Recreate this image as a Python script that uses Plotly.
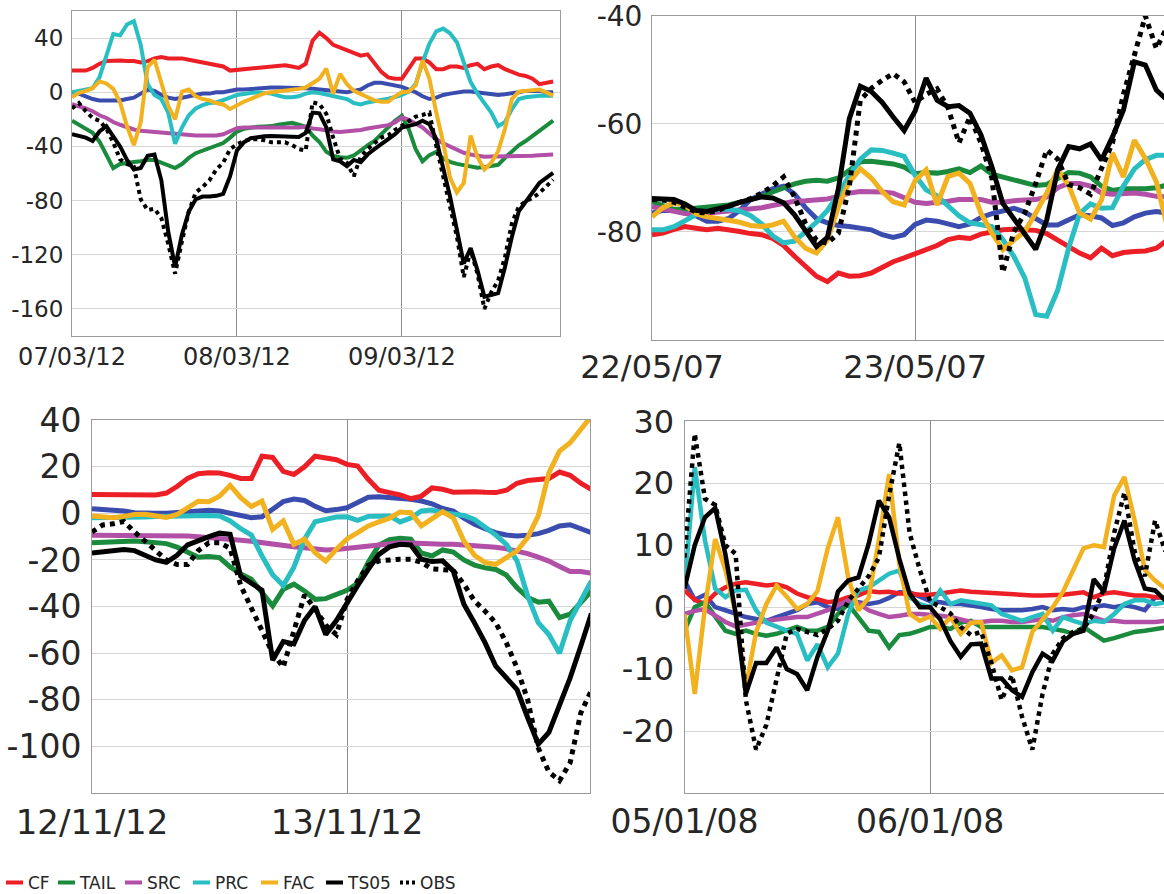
import pandas as pd
import plotly.graph_objects as go

# ---------------- data (hourly values) ----------------
SERIES = ["RC", "CF", "TAIL", "SRC", "PRC", "FAC", "TS05", "OBS"]
COLORS = {"RC": "#3A4DAF", "CF": "#EC1F26", "TAIL": "#1A8A3C", "SRC": "#B250A8",
          "PRC": "#28BEC2", "FAC": "#F2B11F", "TS05": "#000000", "OBS": "#000000"}

# --- panel 1: 07/03/12 - 09/03/12 ---
TL_START = "2012-03-07 00:00"
TL_RC = [0,-1,-3,-5,-6,-6,-6.5,-6,-5,-4, -1,2,1,-2,-4,-5,-4,-3,-2,-1, -1,0,0,1,2,2,2.5,3,3.5,3.5,
         3.5,3.5,3.5,3.5,3,2.5,2,1.5,1,0, 0,1,2,5,7,7,6,5,4,2, 0,-3,-5,-4,-2,-1,0,0.5,0.5,0,
         -1,-1.5,-2,-1.5,-1,0,1,1,1,0,0]
TL_CF = [16,16,16,18,21,23,23.5,23.5,23,23, 22,23,25,26,25,25,25,24,23,22, 21,20,19,16,16.5,17,18,18.5,19,19,
         19.5,20,19,18,21,38,44,40,35,33, 31,29,27,28,22,15,11,10,10,18, 25,25,22,17,17,19,19,18,20,21,
         17,19,20,17,15,13,12,10,6,7,8]
TL_TAIL = [-21,-24,-26.5,-30,-36.5,-46.5,-56,-53,-52,-51.5, -51,-50,-50,-52,-54,-56,-53,-48.5,-45,-43,
           -41.5,-39.5,-37.5,-33.5,-29,-27,-26,-25.5,-25.2,-25, -24,-23,-22.5,-24,-25.5,-32,-36.7,-44,-47,-48,
           -48.4,-46.7,-42.7,-39.2,-36,-31,-26.8,-21,-17.4,-27.3, -42,-51,-46.4,-44,-49,-51.4,-52.9,-54,-55,-55.8,
           -55.3,-54.6,-53.6,-48.4,-43.4,-39.2,-36,-32.3,-28.5,-24.3,-21]
TL_SRC = [-8.7,-10,-12,-14,-17,-19,-22,-24,-26,-27.5, -28.5,-29,-29.5,-30,-30.5,-31,-31.5,-31.5,-32,-32,
          -32,-32,-31,-29,-26.5,-26,-26,-26,-26,-26, -26.5,-26.5,-26.5,-26,-25.5,-26.8,-27.3,-28.5,-29,-29.3,
          -29,-28.5,-27.8,-26.8,-25.8,-25.3,-24.3,-22.3,-18.6,-20.3, -22.8,-26,-30.5,-34.7,-37.7,-40.2,-42.7,-44.7,-46,-47,
          -47.6,-47.5,-47.5,-47.5,-47.3,-47,-47,-46.8,-46.5,-46,-46]
TL_PRC = [0,1,1.5,3,11,27,43,42,50,52.5, 35,6,-2,-5,-15,-38,-26,-17,-12,-9.5, -8,-7.5,-6,-4,-2,-1,-0.5,0,-0.5,-1,
          -2.5,-3.7,-3.7,-3,-1,0,-0.5,-1.5,-2.5,-3.7, -5,-8,-9,-7.5,-6.7,-5.7,-4.7,-3.5,-2,0.5,
          6,22,36,45,47,43.5,37,22,7.5,-1, -7.5,-15,-25,-22,-12.5,-5,-3.7,-3,-2.5,-2.5,-2.5]
TL_FAC = [-3.7,-0.5,1,3,8,6.5,2.5,-7.5,-25,-39, -22,18.6,24,6,-10,-20,0.5,2,-3,-5, -6,-8,-9,-12.4,-9.4,-7,-5,-2.5,-0.7,0,
          0.5,1,1.7,2.5,3.5,7,10,17.4,-1,13.6, 6,1,-1.2,-3.7,-6,-7,-7,-3,0,0.5,
          5,23.5,10,-15,-37,-63,-74,-67,-32,-48, -57,-52,-43.5,-27,-5,0.5,1,1,2,0,-2.5]
TL_TS05 = [-31,-32,-33.5,-36,-29,-25,-32,-40,-50,-57, -56,-47,-46,-65,-103,-129,-105,-88,-79,-77,
           -77,-76.5,-75,-62,-43,-37,-34,-33,-32.5,-32.3, -32.3,-33,-33,-33,-30,-15,-15.6,-26,-49.6,-51,
           -54.6,-50,-51.6,-46,-42,-38.5,-34.7,-31,-26,-24.8, -23.6,-21,-23.6,-34.7,-56,-77,-101.7,-126.5,-115,-131.5,
           -151,-150,-148.4,-129,-106.7,-88,-80.6,-73.2,-67,-63.3,-59.6]
TL_OBS = [-12,-8,-14,-19,-21,-27,-37,-49.6,-53,-55, -79,-87,-86,-93,-112,-134,-110,-88,-74,-70,
          -65,-57,-52,-42,-38.5,-36,-34.7,-34.7,-35.5,-37, -37,-37,-39,-42,-43,-7.4,-8.7,-16,-33.5,-49,
          -52,-62,-47.6,-42,-37.7,-33.5,-31.8,-27.8,-24.8,-21, -18,-16.8,-15,-39.7,-62,-86.8,-106.7,-136.5,-116.6,-134,
          -160,-147.6,-139,-121.6,-96.8,-84.4,-80.6,-78,-74.4,-69.5,-64.5]
TL_YTICKS = [40, 0, -40, -80, -120, -160]
TL_YTEXT = ["40", "0", "-40", "-80", "-120", "-160"]

# --- panel 2: 22/05/07 - 23/05/07 ---
TR_START = "2007-05-22 00:00"
TR_RC = [-76.5,-76,-76,-76.5,-77,-78,-78,-77.5,-76,-74, -73,-72,-71.5,-73,-75.5,-77.5,-78.3,-78.8,-79,-79.2,
         -79.6,-80.5,-81,-80.5,-78.6,-77.8,-78,-78.5,-79,-78.5, -77.3,-76.6,-76.2,-75.6,-76.3,-77.5,-78.7,-78.7,-77.8,-76.8,
         -77,-77.4,-78.8,-78.3,-77.2,-76.5,-76.2,-76.5]
TR_CF = [-80.5,-80.2,-79.5,-79,-79.3,-79.6,-79.3,-79.5,-79.9,-80.3, -80.5,-81.2,-82.5,-84.5,-86.5,-88.2,-89.2,-87.6,-88.2,-88.1,
         -87.6,-86.6,-85.5,-84.8,-84,-83.3,-82.5,-81.4,-81,-81.2, -80.4,-80,-79.6,-79.5,-79.5,-79.7,-80.3,-81.5,-82.8,-83.9,
         -84.8,-83,-84.4,-83.8,-83.6,-83.5,-83,-81.5]
TR_TAIL = [-74.4,-75.2,-75.8,-75.8,-75.6,-75.6,-75.3,-75,-74.5,-74, -73.4,-72.6,-71.8,-71.1,-70.6,-70.4,-70.6,-70,-68.6,-67,
           -66.9,-67.2,-67.4,-68,-69.2,-69,-69.1,-68.8,-68.3,-69, -67.8,-69.3,-69.8,-70.5,-71,-71.4,-71.2,-70.2,-69,-69.1,
           -69.8,-71.5,-72.3,-72,-72.1,-72,-71.8,-71.3]
TR_SRC = [-75.3,-75.8,-76.2,-76.6,-76.7,-76.5,-76.4,-76.2,-76,-75.8, -75.5,-75.1,-74.6,-74.3,-74.2,-74,-73.9,-73.4,-72.8,-72.5,
          -72.5,-72.6,-72.8,-73.6,-74.5,-74.7,-74.6,-74.3,-74,-73.9, -74,-74.5,-74.5,-74.2,-74.1,-74,-73.5,-71.8,-71,-71,
          -71.5,-72.8,-73,-72.9,-72.8,-73,-73.4,-73.5]
TR_PRC = [-79.6,-79.6,-79,-77.8,-76.8,-76.2,-75.8,-75.8,-76.1,-77, -78.5,-80.7,-82,-81.7,-80,-78.2,-76,-73,-69.5,-66.5,
          -64.8,-64.9,-65.4,-66,-69.5,-72.2,-73.3,-75,-77,-78.3, -78.7,-79,-81.4,-84.5,-88.5,-95.3,-95.6,-90.8,-83,-76.6,
          -74.8,-75.6,-75.5,-71.5,-68.3,-66.6,-65.8,-65.8]
TR_FAC = [-77.2,-75.5,-74.6,-75,-76.6,-77.2,-77.5,-77.8,-78.2,-78.8, -79,-78.7,-78,-80.9,-83,-83.9,-81.5,-75.3,-70.7,-68.3,
          -70,-72.5,-74.4,-75,-70.5,-68.5,-75,-69.7,-69.1,-71, -76.5,-80.2,-83.3,-81.5,-79.9,-76.5,-72.8,-68.5,-71.3,-76.5,
          -77.6,-74.1,-65.4,-69.8,-63,-66.4,-70.7,-79]
TR_TS05 = [-73.8,-73.8,-74,-74.8,-76,-76.2,-75.8,-75.2,-74.5,-73.9, -73.5,-73.7,-74.6,-76.8,-79.8,-82.7,-81,-72,-59,-53,
           -54,-56,-58.7,-61.2,-57.6,-51.5,-55.6,-56.8,-56.6,-58, -62,-67.9,-74.7,-77.5,-80.2,-83.2,-77.8,-68.5,-64.2,-64.6,
           -63.7,-66.7,-62.4,-57.4,-48.5,-49.1,-53.7,-55.6]
TR_OBS = [-74,-74.1,-74.5,-75.5,-76.3,-76.5,-76,-75.2,-74.5,-73.8, -72.8,-71.5,-69.8,-73.5,-78.4,-81.5,-82.1,-80.2,-71.6,-55.6,
          -53.4,-51.9,-50.7,-52.2,-56,-54.5,-53.5,-57,-63.5,-58.7, -63.5,-70,-87.5,-80,-76.5,-71,-64.8,-66.5,-71.2,-71.8,
          -73,-68.5,-63.5,-54.5,-47,-40,-46,-42]
TR_YTICKS = [-40, -60, -80]
TR_YTEXT = ["-40", "-60", "-80"]

# --- panel 3: 12/11/12 - 13/11/12 ---
BL_START = "2012-11-12 00:00"
BL_RC = [2,1.7,1.5,1,0.3,0,0,0,0.3,0.8, 1.2,1.3,1,0,-1,-1.9,-1.5,1.5,5,6.1, 5.5,3,1.1,1.6,2.4,4.6,6.9,7.1,6.7,6.7,
         6,5.3,4.1,2.1,1,-2.1,-4.7,-6.6,-8.3,-9.3, -9.7,-9.4,-8.7,-7.3,-5.4,-4.9,-6.6,-8.3]
BL_CF = [8.1,8.1,8,7.8,7.7,7.7,7.9,8.7,11.5,15, 17,17.4,17.3,16.3,15,15,24.5,24,18,16.7, 20,24.5,23.5,23,21,20.3,14.6,9.9,8.9,7.9,
         6.3,7.4,10.9,10.3,9.1,9.4,9.3,9,8.9,9.9, 12.9,14.1,14.6,14.9,17.7,16.3,12.9,10.3]
BL_TAIL = [-12.6,-12.4,-12.3,-12,-11.9,-12.2,-12.5,-13,-14.5,-16.5, -18.8,-18.5,-19,-23,-26,-28.3,-34.3,-39.7,-32.6,-30.4,
           -33.3,-36.9,-36.6,-34.7,-33,-30,-21,-13.7,-11.3,-10.7, -11.1,-17,-18.3,-15.7,-16.6,-20,-22.2,-23.4,-24.1,-26.5,
           -31.9,-36.1,-38.1,-37.7,-44.7,-43.3,-38.3,-33.3]
BL_SRC = [-9.4,-9.4,-9.4,-9.4,-9.4,-9.4,-9.4,-9.5,-9.6,-9.7, -10,-10.3,-10.5,-11,-11.5,-12,-12.7,-13.3,-13.9,-14.3,
          -14.8,-15.3,-15.7,-15.5,-15,-14.8,-14,-13.3,-12.8,-12.6, -12.7,-13,-13.3,-13.3,-13.3,-13.5,-13.8,-14,-14.6,-15.2,
          -16.2,-17.3,-18.8,-20.5,-22.8,-25,-25,-25.7]
BL_PRC = [-1.9,-1.9,-2,-2,-1.9,-1.6,-1.4,-1.2,-1.1,-1, -0.9,-0.9,-1.1,-3.3,-6.6,-9.3,-18.3,-26.3,-31,-23.1,
          -11.1,-3.6,-2.6,-1.6,-1.5,-3,-1.3,-1.1,-1.1,-3.7, -2,1,1.4,0.3,-0.4,-0.9,-2.6,-5.7,-9.3,-13.3,
          -20.4,-35.4,-46.9,-52,-60,-46,-38,-29]
BL_FAC = [-1.1,-1.7,-1.9,-1.3,-0.5,-0.4,-1.2,-1.8,-0.5,2.5, 5.2,5,7.3,12,6.7,2.9,5.3,-6.9,-3.3,-13.3,
          -11.1,-16.9,-20.5,-15.4,-11,-8.3,-5.4,-3.7,-2.1,0.6, 0.3,-5.4,-2.3,0.7,-1.9,-11.9,-18,-21.1,-21.9,-19.3,
          -16.1,-10.4,-1.1,17.4,26.7,30.3,36,41.7]
BL_TS05 = [-17,-16.6,-16.2,-15.5,-16,-18,-20,-21,-18,-13.5, -11.5,-10,-8.5,-9,-27,-30,-33,-63,-55,-56,
           -46,-40,-52,-46,-38,-31,-24,-17.6,-14.4,-13.3, -13.6,-19.7,-20.7,-20.4,-24.7,-39,-47,-55.6,-65.6,-71,
           -75.6,-87.6,-99,-94,-82.6,-70.6,-57,-43]
BL_OBS = [-8,-5,-4.5,-3.5,-8,-12,-16,-20,-22,-22, -16,-12.6,-12.6,-15,-31,-41,-50,-60,-66,-50,
          -35,-41,-48,-52,-37,-29,-22.3,-20.4,-19.8,-19.7, -19.7,-21,-23.8,-24,-24.5,-30.4,-37.6,-42,-47,-55.6,
          -66.3,-80,-100.7,-111,-114.7,-107,-85.7,-76]
BL_YTICKS = [40, 20, 0, -20, -40, -60, -80, -100]
BL_YTEXT = ["40", "20", "0", "-20", "-40", "-60", "-80", "-100"]

# --- panel 4: 05/01/08 - 06/01/08 ---
BR_START = "2008-01-05 00:00"
BR_RC = [4.3,1.2,2,0,-0.5,-1,-1.6,-1.9,-2.2,-1.6, -1,-0.5,0.5,0.8,0,-0.3,0.5,0.8,0.5,0.8, 1.5,2.4,2.4,1.6,1,0.8,0.5,0.5,0.3,0,
         -0.3,-0.5,-0.5,-0.5,-0.3,0,-0.5,-0.3,-0.5,0, 0,0.3,0,0.3,0,-0.5,1.6,1.5]
BR_CF = [2.7,1.2,0.5,2.2,3.2,3.8,4,3.8,3.5,3.7, 3.2,2.2,1.6,1.3,0.8,1,1.6,1.9,2.6,2.4, 2.5,2.2,2.2,2,2,2.2,2.4,2.7,2.5,2.4,
         2.2,2.2,2,1.9,1.9,1.9,1.9,2,2.2,2.4, 1.6,2.2,2.4,2.2,1.9,1.9,1.6,1.6]
BR_TAIL = [-3.8,0,0.8,-1.6,-3.8,-4.3,-3.8,-4.3,-4.6,-4.3, -3.8,-3.2,-3.8,-3.8,-3.2,-1.1,0.5,-1.6,-3.8,-4,
           -6.5,-4.5,-4.3,-3.8,-3.2,-3.2,-3.5,-2.5,-2.2,-3.2, -3.2,-3.2,-3.2,-3.2,-3.2,-3.2,-3.5,-3.8,-4.3,-3.2,
           -4.3,-5.4,-5,-4.5,-4,-3.8,-3.5,-3.3]
BR_SRC = [-1.1,-0.6,-0.3,-1.4,-2.4,-3.1,-2.8,-2.4,-2.2,-2, -1.8,-1.6,-1.6,-1.1,-0.5,0.3,1.1,0.6,-0.5,-1.1,
          -1.6,-1.4,-1.1,-1.1,-1.2,-1.4,-1.6,-2,-2.4,-2.4, -2.2,-2.2,-2.4,-2.4,-2.2,-1.9,-2.2,-1.6,-1.3,-1.1,
          -1.6,-2.2,-2.2,-2.4,-2.4,-2.4,-2.4,-2.2]
BR_PRC = [3.2,22.6,10.8,3,1.6,2.7,2.8,-0.5,-2.5,-3.2, -3.8,-4.3,-8.6,-6,-9.7,-7.5,-1.1,2.7,3.2,4.3,
          5.4,5.9,1.6,0.5,0,2.7,0.5,1.1,0.8,0.5, 0.3,-1.1,-1.6,-2.2,-1.6,-1.1,-3.8,-1.6,-2.2,-2.7,
          -2.2,-2.4,-1.1,0.5,1.1,1.1,0.5,0.8]
BR_FAC = [-1.1,-14,0,11,6,-1,-13,-4,0.5,3.5, 1.7,-0.3,0.5,2.6,9.5,14.5,4.8,-0.5,1.5,10.8,
          21.5,7,-1.1,-2.2,-1.5,-3.5,-1.6,-4.3,-2.5,-2.4, -9,-7.8,-10.2,-9.7,-4,-2,0,2.5,6,9.5,
          10,9.7,18,21,14,6,4.3,3]
BR_TS05 = [3,10,14.5,16,8.5,-1,-14,-9,-9,-6.5, -10,-10.8,-13.4,-8,-3.8,2.5,4.3,4.8,10.2,17.2,
           14.5,7.8,2.2,0,0,-2,-5.5,-8,-6,-5.9, -11.5,-11.5,-13.4,-14.5,-10.5,-7.5,-8.6,-5.5,-4.3,-3.8,
           4.5,2.5,9.5,14,7.5,3,2.7,1.1]
BR_OBS = [8,28,17.5,16.5,10,8.6,-15,-23,-19,-11.3, -4.3,-3.5,-4,-4.5,-3.5,-2.2,1,3,5,8,
          18,26.5,12,6,1,0,-1,-3.2,-4.5,-4, -9,-15,-11,-17.7,-23,-14,-7.5,-5,-4,-3.5,
          -1,3,12,18.5,9,5,14,9]
BR_YTICKS = [30, 20, 10, 0, -10, -20]
BR_YTEXT = ["30", "20", "10", "0", "-10", "-20"]

# legend entries (the leftmost entry of the original legend is cropped away)
LEGEND_NAMES = ["CF", "TAIL", "SRC", "PRC", "FAC", "TS05", "OBS"]

# ---------------- figure ----------------
W, H = 1164, 894
TXT = "#262626"
FONT = "DejaVu Sans"

panels = [
    dict(start=TL_START, series=[TL_RC, TL_CF, TL_TAIL, TL_SRC, TL_PRC, TL_FAC, TL_TS05, TL_OBS],
         span_h=71.0, yrange=[-180, 60], yt=TL_YTICKS, ytt=TL_YTEXT,
         px=(72, 560), py=(11, 336), xfs=24, yfs=23, lw=4, ymirror=True),
    dict(start=TR_START, series=[TR_RC, TR_CF, TR_TAIL, TR_SRC, TR_PRC, TR_FAC, TR_TS05, TR_OBS],
         span_h=46.7, yrange=[-100, -39.95], yt=TR_YTICKS, ytt=TR_YTEXT,
         px=(652, 1164), py=(15.7, 340), xfs=32, yfs=28, lw=5, ymirror=False),
    dict(start=BL_START, series=[BL_RC, BL_CF, BL_TAIL, BL_SRC, BL_PRC, BL_FAC, BL_TS05, BL_OBS],
         span_h=46.87, yrange=[-120, 40.05], yt=BL_YTICKS, ytt=BL_YTEXT,
         px=(92, 590), py=(420, 793), xfs=34, yfs=33, lw=5, ymirror=True),
    dict(start=BR_START, series=[BR_RC, BR_CF, BR_TAIL, BR_SRC, BR_PRC, BR_FAC, BR_TS05, BR_OBS],
         span_h=46.87, yrange=[-30, 30.05], yt=BR_YTICKS, ytt=BR_YTEXT,
         px=(684.5, 1164), py=(421, 793), xfs=33, yfs=32, lw=4.5, ymirror=False),
]

# where each legend entry's text starts (px) and how its short key is dashed
LEGEND_TEXT_X = [28, 80, 147, 215, 283, 348, 420]
KEY_SOLID = "0px,13px,17px,60px"
KEY_DOTS = "0px,15px,3px,3px,3px,3px,3px,60px"

fig = go.Figure()
layout = {}
for i, p in enumerate(panels):
    k = "" if i == 0 else str(i + 1)
    t = pd.date_range(p["start"], periods=len(p["series"][0]), freq="h")
    for name, vals in zip(SERIES, p["series"]):
        fig.add_trace(go.Scatter(
            x=t, y=vals, mode="lines", name=name, legendgroup=name, showlegend=False,
            line=dict(color=COLORS[name], width=p["lw"],
                      dash="dot" if name == "OBS" else "solid"),
            xaxis="x" + k, yaxis="y" + k, hoverinfo="skip"))
    start = pd.Timestamp(p["start"])
    end = start + pd.Timedelta(hours=p["span_h"])
    layout["xaxis" + k] = dict(
        domain=[p["px"][0] / W, p["px"][1] / W], anchor="y" + k, type="date",
        range=[start, end], tick0=start, dtick=86400000, tickformat="%d/%m/%y",
        showgrid=True, gridcolor="#8c8c8c", gridwidth=1,
        showline=True, linecolor="#9a9a9a", linewidth=1, mirror=True,
        ticks="", ticklabelstandoff=-1, zeroline=False, ticklabeloverflow="allow",
        tickfont=dict(family=FONT, size=p["xfs"], color=TXT))
    layout["yaxis" + k] = dict(
        domain=[1 - p["py"][1] / H, 1 - p["py"][0] / H], anchor="x" + k,
        range=p["yrange"], tickvals=p["yt"], ticktext=p["ytt"],
        showgrid=True, gridcolor="#d6d6d6", gridwidth=1,
        showline=True, linecolor="#9a9a9a", linewidth=1, mirror=p["ymirror"],
        ticks="", ticklabelstandoff=3, zeroline=False, ticklabeloverflow="allow",
        tickfont=dict(family=FONT, size=p["yfs"], color=TXT))

# legend entries: one small legend per entry, grouped with the plotted series
for j, name in enumerate(LEGEND_NAMES):
    lid = "legend" if j == 0 else "legend%d" % (j + 1)
    fig.add_trace(go.Scatter(
        x=[None], y=[None], mode="lines", name=name, legendgroup=name, showlegend=True,
        legend=lid, hoverinfo="skip",
        line=dict(color=COLORS[name], width=4,
                  dash=KEY_DOTS if name == "OBS" else KEY_SOLID)))
    layout[lid] = dict(orientation="h", x=(LEGEND_TEXT_X[j] - 40) / W, xanchor="left",
                       y=1 - 883 / H, yanchor="middle",
                       font=dict(family=FONT, size=17, color=TXT),
                       bgcolor="rgba(0,0,0,0)", borderwidth=0, itemwidth=30)

fig.update_layout(
    width=W, height=H,
    margin=dict(l=0, r=0, t=0, b=0, pad=0, autoexpand=False),
    paper_bgcolor="white", plot_bgcolor="white",
    font=dict(family=FONT, color=TXT),
    showlegend=True,
    **layout)

fig.write_html("out.html", config={"displayModeBar": False},
               post_script="document.body.style.margin='0px';")
